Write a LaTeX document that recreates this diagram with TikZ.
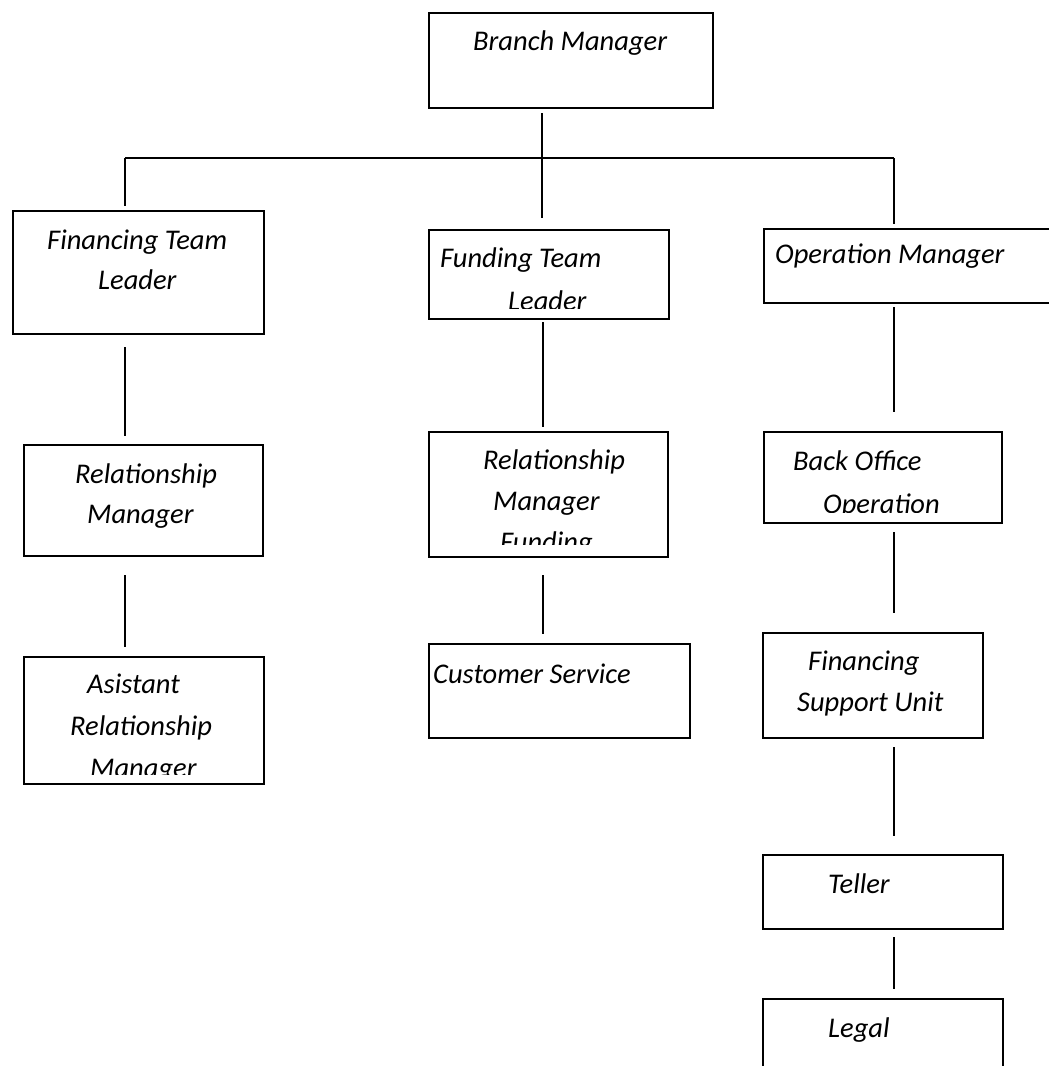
\documentclass[tikz,border=0pt]{standalone}
\usepackage{fontspec}
\setmainfont{Carlito}
\begin{document}
\begin{tikzpicture}[x=1pt,y=-1pt,
  box/.style={draw, line width=1.8pt, rectangle, inner sep=0pt, anchor=north west},
  lbl/.style={anchor=base west, inner sep=0pt, font=\fontsize{28.5}{40}\selectfont\itshape},
  conn/.style={line width=1.4pt}]
\useasboundingbox (0,0) rectangle (1049,1066);
% boxes
\newcommand{\mkbox}[5]{\node[box, minimum width={#4-#2}, minimum height={#5-#3}] (#1) at (#2,#3) {};}
\mkbox{bm}{428}{12}{712}{107}
\mkbox{ftl}{12}{210}{263}{333}
\mkbox{fdtl}{428}{229}{668}{318}
\mkbox{om}{763}{228}{1080}{302}
\mkbox{rm}{23}{444}{262}{555}
\mkbox{rmf}{428}{431}{667}{556}
\mkbox{boo}{763}{431}{1001}{522}
\mkbox{arm}{23}{656}{263}{783}
\mkbox{cs}{428}{643}{689}{737}
\mkbox{fsu}{762}{632}{982}{737}
\mkbox{tel}{762}{854}{1002}{928}
\mkbox{leg}{762}{998}{1002}{1100}
% texts
\node[lbl] (tbm) at (473,50) {Branch Manager};
\node[lbl] (tftl1) at (47,249) {Financing Team};
\node[lbl] (tftl2) at (98,289) {Leader};
\begin{scope}
\clip (fdtl.north west) rectangle ([yshift=11pt]fdtl.south east);
\node[lbl] (tfdtl1) at (440,267) {Funding Team};
\node[lbl] (tfdtl2) at (508,310) {Leader};
\end{scope}
\node[lbl] (tom) at (775,263) {Operation Manager};
\node[lbl] (trm1) at (75,483) {Relationship};
\node[lbl] (trm2) at (87,523) {Manager};
\begin{scope}
\clip (rmf.north west) rectangle ([yshift=13pt]rmf.south east);
\node[lbl] (trmf1) at (483,469) {Relationship};
\node[lbl] (trmf2) at (493,510) {Manager};
\node[lbl] (trmf3) at (500,551) {Funding};
\end{scope}
\begin{scope}
\clip (boo.north west) rectangle ([yshift=11pt]boo.south east);
\node[lbl] (tboo1) at (793,470) {Back Office};
\node[lbl] (tboo2) at (823,513) {Operation};
\end{scope}
\begin{scope}
\clip (arm.north west) rectangle ([yshift=10pt]arm.south east);
\node[lbl] (tarm1) at (87,693) {Asistant};
\node[lbl] (tarm2) at (70,735) {Relationship};
\node[lbl] (tarm3) at (90,777) {Manager};
\end{scope}
\node[lbl] (tcs) at (433,683) {Customer Service};
\node[lbl] (tfsu1) at (808,670) {Financing};
\node[lbl] (tfsu2) at (797,711) {Support Unit};
\node[lbl] (ttel) at (828,893) {Teller};
\node[lbl] (tleg) at (828,1037) {Legal};
% connector end points
\coordinate (c1a) at (542,113); \coordinate (c1b) at (542,218);
\coordinate (hl) at (125,158); \coordinate (hr) at (894,158);
\coordinate (c2b) at (125,206); \coordinate (c3b) at (894,224);
\coordinate (c4a) at (125,347); \coordinate (c4b) at (125,436);
\coordinate (c5a) at (543,322); \coordinate (c5b) at (543,427);
\coordinate (c6a) at (894,307); \coordinate (c6b) at (894,412);
\coordinate (c7a) at (125,575); \coordinate (c7b) at (125,647);
\coordinate (c8a) at (543,575); \coordinate (c8b) at (543,634);
\coordinate (c9a) at (894,532); \coordinate (c9b) at (894,613);
\coordinate (c10a) at (894,747); \coordinate (c10b) at (894,836);
\coordinate (c11a) at (894,937); \coordinate (c11b) at (894,989);
\draw[conn] (c1a) -- (c1b);
\draw[line width=2pt] (hl) -- (hr);
\draw[conn] (hl) -- (c2b);
\draw[conn] (hr) -- (c3b);
\draw[conn] (c4a) -- (c4b);
\draw[conn] (c5a) -- (c5b);
\draw[conn] (c6a) -- (c6b);
\draw[conn] (c7a) -- (c7b);
\draw[conn] (c8a) -- (c8b);
\draw[conn] (c9a) -- (c9b);
\draw[conn] (c10a) -- (c10b);
\draw[conn] (c11a) -- (c11b);
\end{tikzpicture}
\end{document}
